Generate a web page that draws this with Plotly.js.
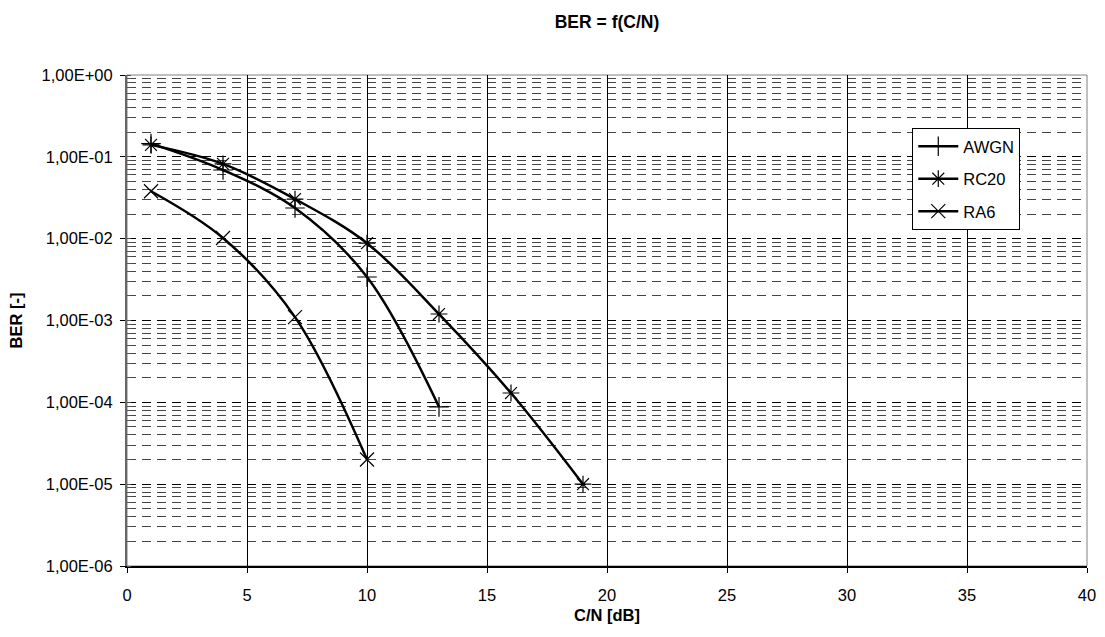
<!DOCTYPE html>
<html><head><meta charset="utf-8">
<script src="https://cdn.plot.ly/plotly-3.0.1.min.js"></script>
<style>html,body{margin:0;padding:0;background:#fff}</style>
</head><body><div id="chart" style="width:1105px;height:637px"></div>
<script>
const awgnX = [1, 4, 7, 10, 13];
const awgnBER = [0.145, 0.069, 0.0237, 0.0034, 0.000088];
const rc20X = [1, 4, 7, 10, 13, 16, 19];
const rc20BER = [0.14, 0.082, 0.0305, 0.0088, 0.0012, 0.00013, 0.00001];
const ra6X = [1, 4, 7, 10];
const ra6BER = [0.038, 0.0102, 0.0011, 0.00002];
const yTickVals = [1, 0.1, 0.01, 0.001, 0.0001, 0.00001, 0.000001];
const yTickText = ['1,00E+00', '1,00E-01', '1,00E-02', '1,00E-03', '1,00E-04', '1,00E-05', '1,00E-06'];
const xTickVals = [0, 5, 10, 15, 20, 25, 30, 35, 40];

const FONT = 'Arial, "Liberation Sans", sans-serif';
function series(name, x, y, symbol) {
  return {
    type: 'scatter', mode: 'lines+markers', name: name, x: x, y: y,
    legendgroup: name,
    line: {color: '#000', width: 2.5, shape: 'spline', smoothing: 1},
    marker: {symbol: symbol, size: 14, color: '#000', line: {color: '#000', width: 1.2}},
    cliponaxis: false
  };
}
const data = [
  series('AWGN', awgnX, awgnBER, 'cross-thin'),
  series('RC20', rc20X, rc20BER, 'asterisk-open'),
  series('RA6', ra6X, ra6BER, 'x-thin-open')
];
const layout = {
  width: 1105, height: 637,
  margin: {l: 127, r: 18, t: 75, b: 71},
  paper_bgcolor: '#fff', plot_bgcolor: '#fff',
  font: {family: FONT, size: 16.5, color: '#000'},
  title: {text: '<b>BER = f(C/N)</b>', font: {family: FONT, size: 17.5, color: '#000'},
          x: 0.5, xref: 'paper', xanchor: 'center', y: 0.966, yref: 'container', yanchor: 'middle'},
  xaxis: {
    range: [0, 40], tickvals: xTickVals, ticktext: xTickVals.map(String),
    showgrid: true, gridcolor: '#000', gridwidth: 1,
    showline: true, linecolor: '#000', linewidth: 1.5,
    ticks: 'outside', ticklen: 5, tickcolor: '#000', ticklabelstandoff: 9,
    zeroline: false,
    title: {text: '<b>C/N [dB]</b>', font: {family: FONT, size: 16.5}, standoff: 6}
  },
  yaxis: {
    type: 'log', range: [-6, 0], tickvals: yTickVals, ticktext: yTickText,
    showgrid: true, gridcolor: '#000', gridwidth: 1, griddash: '9px,6px',
    minor: {dtick: 'D1', showgrid: true, gridcolor: '#444', gridwidth: 1, griddash: '9px,6px',
            ticks: 'inside', ticklen: 4, tickcolor: '#555'},
    showline: true, linecolor: '#666', linewidth: 2,
    ticks: 'outside', ticklen: 5, tickcolor: '#000', ticklabelstandoff: 4,
    zeroline: false,
    title: {text: '<b>BER [-]</b>', font: {family: FONT, size: 16.5}, standoff: 15}
  },
  shapes: [{type: 'rect', xref: 'paper', yref: 'paper', x0: 0, x1: 1, y0: 0, y1: 1,
            line: {color: '#808080', width: 1}, fillcolor: 'rgba(0,0,0,0)', layer: 'below'}],
  showlegend: true,
  legend: {x: 0.818, y: 0.892, xanchor: 'left', yanchor: 'top',
           bgcolor: '#fff', bordercolor: '#000', borderwidth: 1,
           font: {family: FONT, size: 16.5, color: '#000'},
           traceorder: 'grouped', tracegroupgap: 8, itemwidth: 40}
};
Plotly.newPlot('chart', data, layout, {displayModeBar: false, staticPlot: true});
</script>
</body></html>
